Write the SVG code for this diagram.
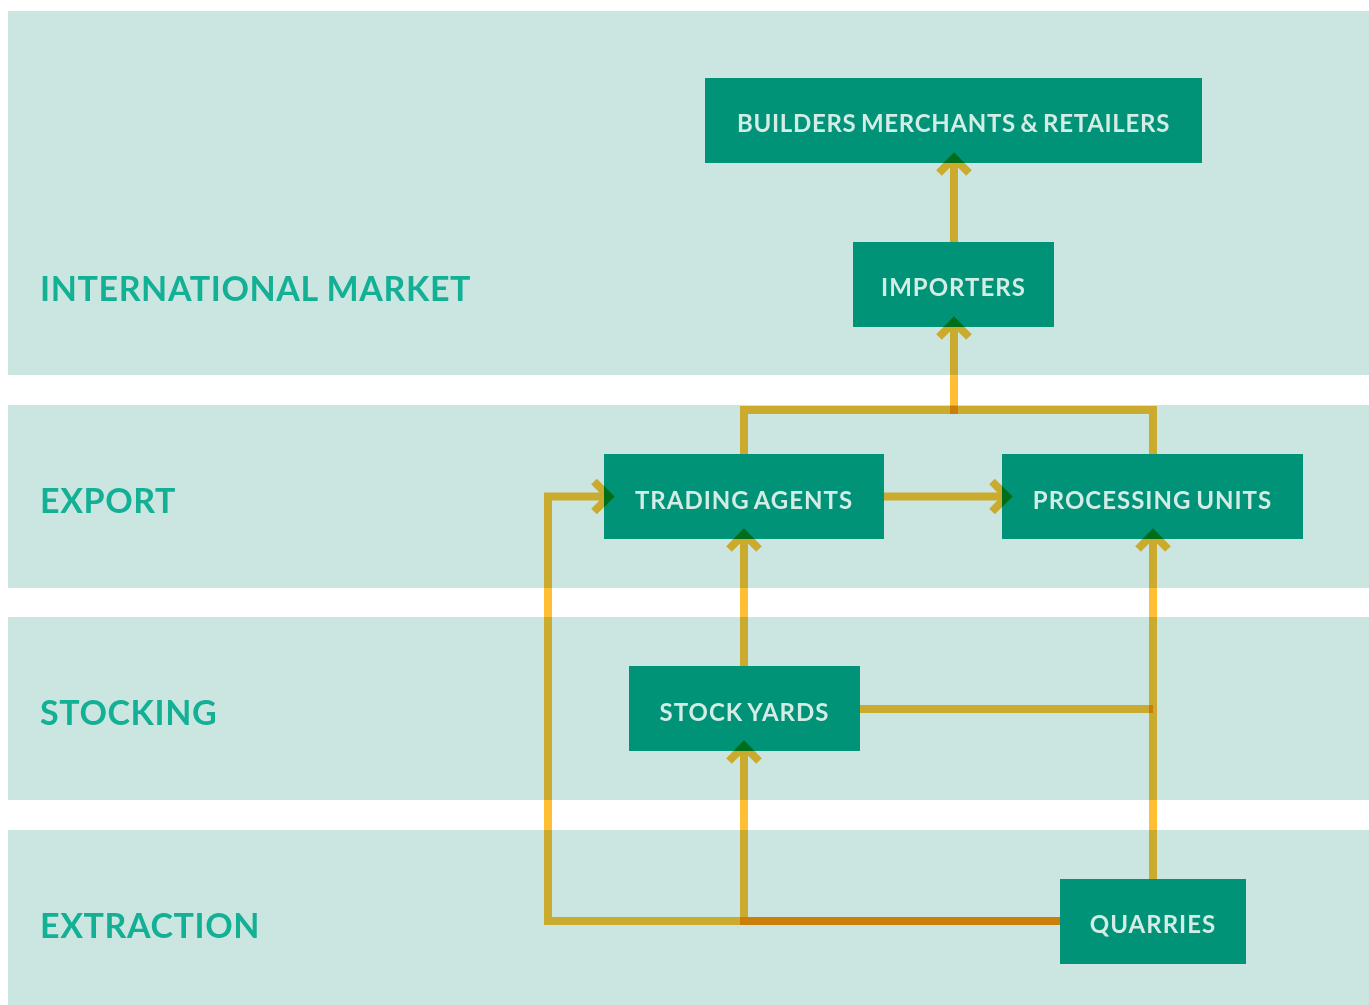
<svg xmlns="http://www.w3.org/2000/svg" width="1369" height="1005" viewBox="0 0 1369 1005">
  <style>
    .band { fill: #cbe6e1; }
    .lane { font-family: Lato, "Open Sans", "Liberation Sans", sans-serif; font-weight: 700; font-size: 34px; fill: #13b096; letter-spacing: 0.6px; }
    .box { fill: #009377; }
    .label { font-family: Lato, "Open Sans", "Liberation Sans", sans-serif; font-weight: 700; font-size: 24px; fill: #d4ece6; text-anchor: middle; letter-spacing: 1px; word-spacing: -2px; }
    .flow { fill: none; stroke: #ffbe33; stroke-width: 8; stroke-linejoin: miter; stroke-linecap: butt; mix-blend-mode: multiply; }
  </style>

  <rect width="1369" height="1005" fill="#ffffff"/>

  <!-- swim lanes -->
  <g id="lanes">
    <rect class="band" x="8" y="11" width="1361" height="364"/>
    <rect class="band" x="8" y="405" width="1361" height="183"/>
    <rect class="band" x="8" y="617" width="1361" height="183"/>
    <rect class="band" x="8" y="830" width="1361" height="175"/>
    <text class="lane" x="40" y="301">INTERNATIONAL MARKET</text>
    <text class="lane" x="40" y="513">EXPORT</text>
    <text class="lane" x="40" y="725">STOCKING</text>
    <text class="lane" x="40" y="938">EXTRACTION</text>
  </g>

  <!-- nodes -->
  <g id="builders">
    <rect class="box" x="705" y="78" width="497" height="85"/>
    <text class="label" x="953.5" y="132" style="letter-spacing:0.7px">BUILDERS MERCHANTS &amp; RETAILERS</text>
  </g>
  <g id="importers">
    <rect class="box" x="853" y="242" width="201" height="85"/>
    <text class="label" x="953.5" y="296">IMPORTERS</text>
  </g>
  <g id="trading-agents">
    <rect class="box" x="604" y="454" width="280" height="85"/>
    <text class="label" x="744" y="509">TRADING AGENTS</text>
  </g>
  <g id="processing-units">
    <rect class="box" x="1002" y="454" width="301" height="85"/>
    <text class="label" x="1152.5" y="509">PROCESSING UNITS</text>
  </g>
  <g id="stock-yards">
    <rect class="box" x="629" y="666" width="231" height="85"/>
    <text class="label" x="744.5" y="721">STOCK YARDS</text>
  </g>
  <g id="quarries">
    <rect class="box" x="1060" y="879" width="186" height="85"/>
    <text class="label" x="1153" y="933">QUARRIES</text>
  </g>

  <!-- connectors: each path is one stroke, arrowhead chevron included -->
  <g id="connectors">
    <!-- importers to builders -->
    <path class="flow" d="M954 242 V158 M939 173 L954 158 L969 173"/>
    <!-- export bracket to importers -->
    <path class="flow" d="M954 414 V322 M939 337 L954 322 L969 337"/>
    <!-- trading agents / processing units bracket -->
    <path class="flow" d="M744 454 V410 H1153 V454"/>
    <!-- trading agents to processing units -->
    <path class="flow" d="M884 496.5 H1007 M992 481.5 L1007 496.5 L992 511.5"/>
    <!-- quarries to trading agents (outer loop) -->
    <path class="flow" d="M1060 921 H548 V496.5 H609 M594 481.5 L609 496.5 L594 511.5"/>
    <!-- quarries to stock yards -->
    <path class="flow" d="M1060 921 H744 V746 M729 761 L744 746 L759 761"/>
    <!-- stock yards to trading agents -->
    <path class="flow" d="M744 666 V534 M729 549 L744 534 L759 549"/>
    <!-- quarries to processing units -->
    <path class="flow" d="M1153 879 V534 M1138 549 L1153 534 L1168 549"/>
    <!-- stock yards to processing line -->
    <path class="flow" d="M860 709 H1153"/>
  </g>
</svg>
